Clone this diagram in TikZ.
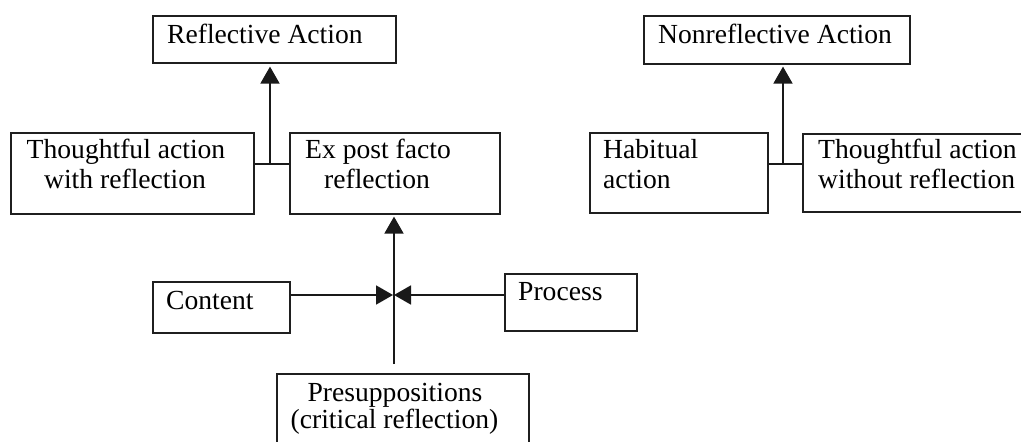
\documentclass[tikz,border=0pt]{standalone}
\usepackage{fontspec}
\setmainfont{Liberation Serif}
\usetikzlibrary{arrows.meta}
\tikzset{
  box/.style={draw=black!88, line width=1.6pt, inner sep=0pt},
  txt/.style={inner sep=0pt, font=\fontsize{27.6}{30}\selectfont, text=black},
  conn/.style={draw=black!90, line width=1.8pt},
  arr/.style={conn, -{Triangle[length=17pt,width=19pt]}},
}
\begin{document}
\begin{tikzpicture}[x=1pt,y=-1pt]
\clip (0,0) rectangle (1021,442);
% boxes
\node[box, anchor=north west, minimum width=243pt, minimum height=47pt] (ra) at (152,15) {};
\node[box, anchor=north west, minimum width=243pt, minimum height=81pt] (tw) at (10,132) {};
\node[box, anchor=north west, minimum width=210pt, minimum height=81pt] (ep) at (289,132) {};
\node[box, anchor=north west, minimum width=266pt, minimum height=48pt] (na) at (643,15) {};
\node[box, anchor=north west, minimum width=178pt, minimum height=80pt] (ha) at (589,132) {};
\node[box, anchor=north west, minimum width=228pt, minimum height=78pt] (tr) at (802,133) {};
\node[box, anchor=north west, minimum width=137pt, minimum height=51pt] (co) at (152,281) {};
\node[box, anchor=north west, minimum width=132pt, minimum height=57pt] (pc) at (504,273) {};
\node[box, anchor=north west, minimum width=252pt, minimum height=80pt] (pr) at (276,373) {};
% texts
\node[txt, anchor=base west] (raT) at (167,43) {Reflective Action};
\node[txt, anchor=base] (twT1) at (126,158) {Thoughtful action};
\node[txt, anchor=base] (twT2) at (125,188) {with reflection};
\node[txt, anchor=base] (epT1) at (378,158) {Ex post facto};
\node[txt, anchor=base] (epT2) at (377,188) {reflection};
\node[txt, anchor=base west] (naT) at (658,43) {Nonreflective Action};
\node[txt, anchor=base west] (haT1) at (603,158) {Habitual};
\node[txt, anchor=base west] (haT2) at (603,188) {action};
\node[txt, anchor=base west] (trT1) at (818,158) {Thoughtful action};
\node[txt, anchor=base west] (trT2) at (818,188) {without reflection};
\node[txt, anchor=base west] (coT) at (166,309) {Content};
\node[txt, anchor=base west] (pcT) at (518,300) {Process};
\node[txt, anchor=base] (prT1) at (395,401) {Presuppositions};
\node[txt, anchor=base] (prT2) at (394.5,428) {(critical reflection)};
% junctions
\coordinate (j1) at (270,164);
\coordinate (j2) at (783,164);
\coordinate (j3) at (394,295);
% connectors
\draw[conn] (tw.east |- j1) -- (ep.west |- j1);
\draw[arr, shorten >=3pt] (j1) -- (ra.south -| j1);
\draw[conn] (ha.east |- j2) -- (tr.west |- j2);
\draw[arr, shorten >=2pt] (j2) -- (na.south -| j2);
\draw[arr, shorten <=9pt, shorten >=2pt] (pr.north -| j3) -- (ep.south -| j3);
\draw[arr, shorten >=1pt] (co.east |- j3) -- (j3);
\draw[arr, shorten >=-2pt] (pc.west |- j3) -- ([xshift=2pt]j3);
\end{tikzpicture}
\end{document}
